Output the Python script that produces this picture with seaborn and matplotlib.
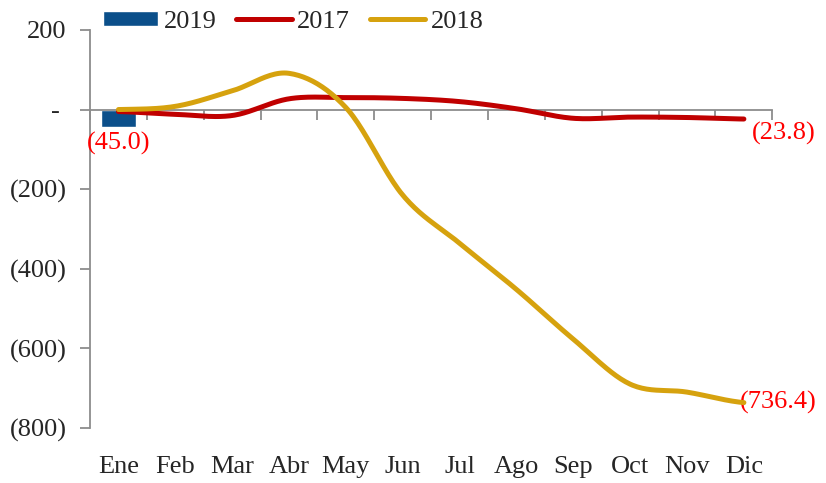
import numpy as np
import pandas as pd
import matplotlib
matplotlib.use("Agg")
from matplotlib import pyplot as plt
import seaborn as sns

meses = ['Ene', 'Feb', 'Mar', 'Abr', 'May', 'Jun', 'Jul', 'Ago', 'Sep', 'Oct', 'Nov', 'Dic']
v2019 = [-45.0] + [np.nan] * 11
v2017 = [-5, -12, -15, 27, 30, 28, 20, 2, -22, -19, -20, -23.8]
v2018 = [0, 8, 47, 91, 5, -215, -336, -452, -577, -690, -710, -736.4]
yticks = [200, 0, -200, -400, -600, -800]
ylabels = ['200', '- ', '(200)', '(400)', '(600)', '(800)']

col2019 = '#0B4F8A'
col2017 = '#C00000'
col2018 = '#D6A20E'
gris = '#8C8C8C'
fs = 19


def suavizar(vals, n=24):
    # curva tipo Excel (catmull-rom)
    p = np.array(vals, dtype=float)
    p = np.concatenate([[p[0]], p, [p[-1]]])
    xs, ys = [], []
    for i in range(1, len(p) - 2):
        p0, p1, p2, p3 = p[i - 1], p[i], p[i + 1], p[i + 2]
        t = np.linspace(0, 1, n, endpoint=False)
        y = 0.5 * (2 * p1 + (-p0 + p2) * t + (2 * p0 - 5 * p1 + 4 * p2 - p3) * t ** 2
                   + (-p0 + 3 * p1 - 3 * p2 + p3) * t ** 3)
        xs.extend(i - 1 + t)
        ys.extend(y)
    xs.append(len(vals) - 1)
    ys.append(vals[-1])
    return pd.DataFrame({'x': xs, 'y': ys})


sns.set_style('white')
plt.rcParams['font.family'] = ['Liberation Serif', 'DejaVu Serif']

fig, ax = plt.subplots(figsize=(8.26, 4.83), dpi=100)
fig.subplots_adjust(left=0.109, right=0.935, top=0.938, bottom=0.114)

sns.barplot(x=meses, y=v2019, color=col2019, width=0.63, saturation=1,
            label='2019', ax=ax, zorder=2)
d17 = suavizar(v2017)
d18 = suavizar(v2018)
sns.lineplot(data=d17, x='x', y='y', sort=False, estimator=None, color=col2017,
             lw=3.6, solid_capstyle='round', label='2017', ax=ax, zorder=3)
sns.lineplot(data=d18, x='x', y='y', sort=False, estimator=None, color=col2018,
             lw=3.6, solid_capstyle='round', label='2018', ax=ax, zorder=4)

ax.set_xlim(-0.5, 11.5)
ax.set_ylim(-800, 200)
ax.set_xlabel('')
ax.set_ylabel('')

# ejes
for s in ['top', 'right']:
    ax.spines[s].set_visible(False)
ax.spines['left'].set_color(gris)
ax.spines['left'].set_linewidth(1.3)
ax.spines['bottom'].set_position(('data', 0))
ax.spines['bottom'].set_color(gris)
ax.spines['bottom'].set_linewidth(1.3)

ax.set_yticks(yticks, ylabels)
ax.tick_params(axis='y', direction='out', length=7, width=1.3, color=gris,
               labelsize=fs, pad=10, left=True)

ax.set_xticks(range(12), [''] * 12)
ax.set_xticks(np.arange(-0.5, 12, 1), minor=True)
ax.tick_params(axis='x', which='major', length=0)
ax.tick_params(axis='x', which='minor', direction='out', length=7, width=1.3,
               color=gris, bottom=True)

sec = ax.secondary_xaxis('bottom')
sec.set_xticks(range(12), meses)
sec.tick_params(length=0, labelsize=fs, pad=20)
sec.spines['bottom'].set_visible(False)

# etiquetas de datos
ax.annotate('(45.0)', (0, v2019[0]), xytext=(0, -3), textcoords='offset points',
            ha='center', va='top', color='#FF0000', fontsize=fs)
ax.annotate('(23.8)', (11, v2017[-1]), xytext=(6, -2), textcoords='offset points',
            ha='left', va='top', color='#FF0000', fontsize=fs)
ax.annotate('(736.4)', (11, v2018[-1]), xytext=(-3, 0), textcoords='offset points',
            ha='left', va='center', color='#FF0000', fontsize=fs)

h, l = ax.get_legend_handles_labels()
orden = [l.index(k) for k in ['2019', '2017', '2018']]
ax.legend([h[i] for i in orden], [l[i] for i in orden], ncol=3, frameon=False,
          fontsize=fs, handlelength=2.1, handleheight=0.5, columnspacing=0.75,
          handletextpad=0.2, loc='upper left', bbox_to_anchor=(0.112, 1.0),
          bbox_transform=fig.transFigure, borderaxespad=0)

fig.savefig('out.png', dpi=100)
